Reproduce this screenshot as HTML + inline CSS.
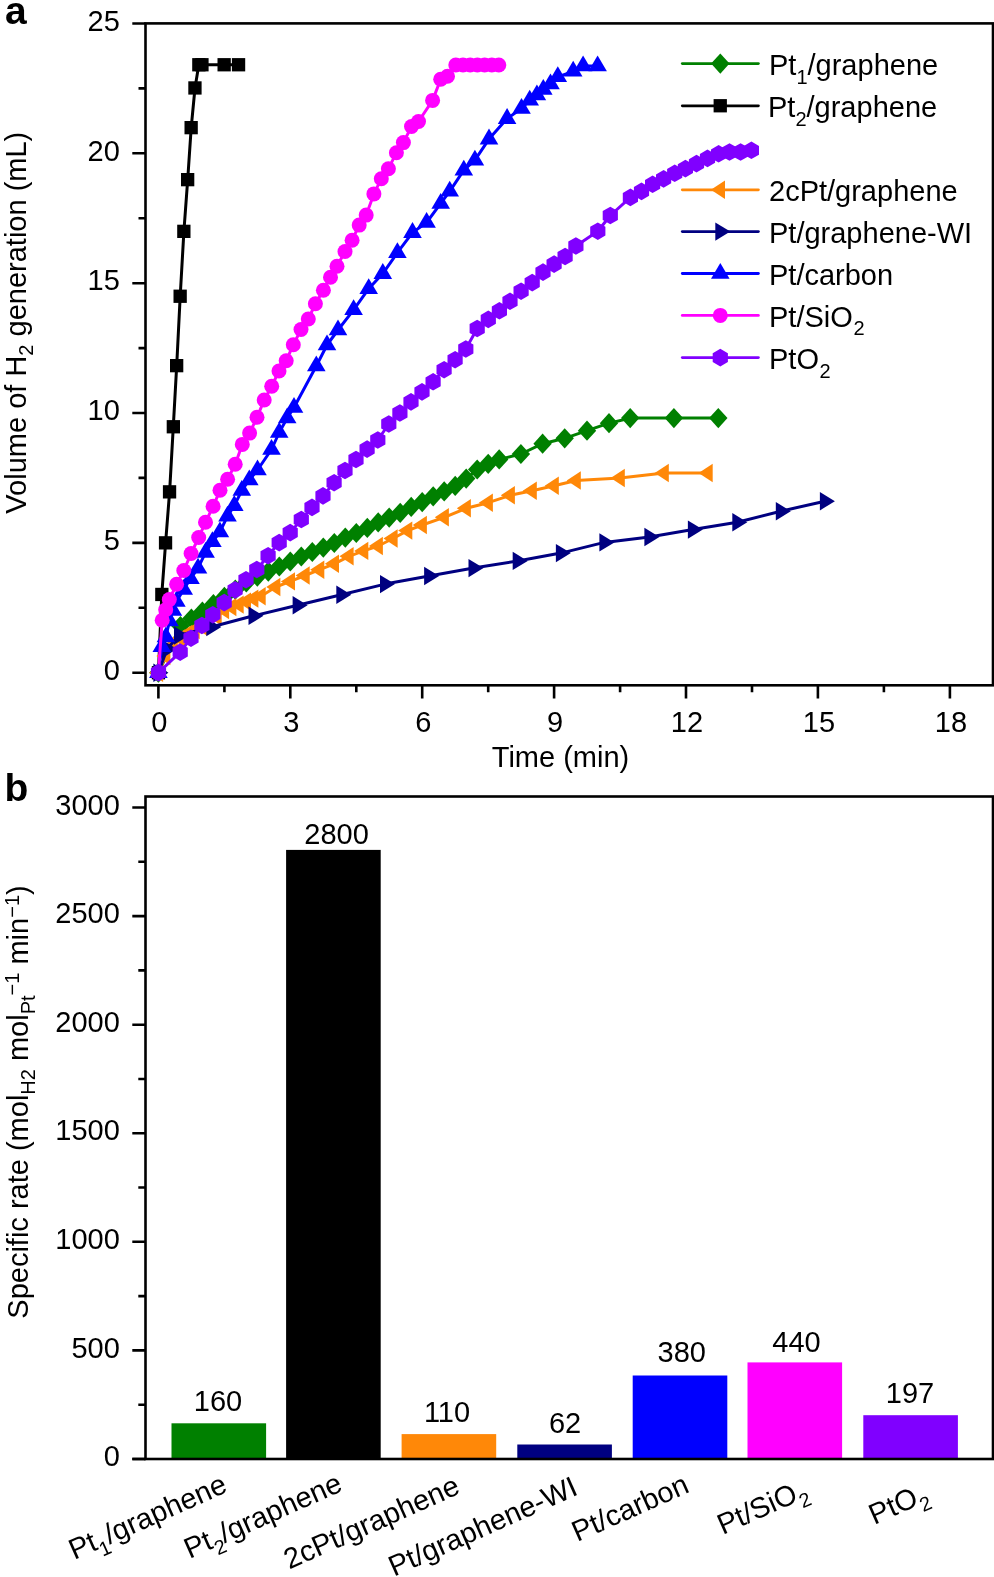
<!DOCTYPE html>
<html><head><meta charset="utf-8"><style>
html,body{margin:0;padding:0;background:#fff;overflow:hidden;width:994px;height:1577px;}
svg{display:block;will-change:transform;}
text{font-family:"Liberation Sans", sans-serif;fill:#000;}
</style></head><body>
<svg width="994" height="1577" viewBox="0 0 994 1577">
<rect width="994" height="1577" fill="#fff"/>
<g id="a">
<text x="5" y="23.5" font-size="39" font-weight="bold">a</text>
<path d="M132.3 672.7H145.5M138.5 607.8H145.5M132.3 542.9H145.5M138.5 477.9H145.5M132.3 413H145.5M138.5 348.1H145.5M132.3 283.2H145.5M138.5 218.2H145.5M132.3 153.3H145.5M138.5 88.4H145.5M132.3 23.5H145.5M158.4 685.3V698.4M224.4 685.3V692.3M290.3 685.3V698.4M356.3 685.3V692.3M422.2 685.3V698.4M488.2 685.3V692.3M554.1 685.3V698.4M620.1 685.3V692.3M686 685.3V698.4M752 685.3V692.3M817.9 685.3V698.4M883.9 685.3V692.3M949.9 685.3V698.4" stroke="#000" stroke-width="2.6" fill="none"/>
<text x="119.8" y="679.9" font-size="29" text-anchor="end">0</text>
<text x="119.8" y="550.1" font-size="29" text-anchor="end">5</text>
<text x="119.8" y="420.2" font-size="29" text-anchor="end">10</text>
<text x="119.8" y="290.4" font-size="29" text-anchor="end">15</text>
<text x="119.8" y="160.5" font-size="29" text-anchor="end">20</text>
<text x="119.8" y="30.7" font-size="29" text-anchor="end">25</text>
<text x="159.4" y="732.3" font-size="29" text-anchor="middle">0</text>
<text x="291.3" y="732.3" font-size="29" text-anchor="middle">3</text>
<text x="423.2" y="732.3" font-size="29" text-anchor="middle">6</text>
<text x="555.1" y="732.3" font-size="29" text-anchor="middle">9</text>
<text x="687" y="732.3" font-size="29" text-anchor="middle">12</text>
<text x="818.9" y="732.3" font-size="29" text-anchor="middle">15</text>
<text x="950.9" y="732.3" font-size="29" text-anchor="middle">18</text>
<text x="560.5" y="767.3" font-size="29" text-anchor="middle">Time (min)</text>
<text transform="translate(25.8,322.7) rotate(-90)" font-size="29" text-anchor="middle">Volume of H<tspan font-size="20" dy="7">2</tspan><tspan dy="-7"> generation (mL)</tspan></text>
<clipPath id="ca"><rect x="145.5" y="23.4" width="847.5" height="661.9"/></clipPath>
<g>
<polyline points="158.4,672.7 180.4,626 191.4,618.5 202.4,611.5 213.4,604.2 224.4,596.9 235.3,589.7 246.3,582.4 257.3,576.6 268.3,571.6 279.3,566.5 290.3,561.5 301.3,556.5 312.3,552 323.3,547.6 334.3,543 345.3,537.6 356.3,533 367.3,527.9 378.2,522.4 389.2,517.6 400.2,512.8 411.2,506.9 422.2,502.1 433.2,496.3 444.2,491.4 455.2,485.9 466.2,478.6 477.2,469.5 488.2,463.8 499.2,459.4 520.9,454 542.6,443.7 564.7,438.3 587,430.7 609,423.2 630.2,418.1 673.9,418.1 718.3,418.1" fill="none" stroke="#008000" stroke-width="3.0" stroke-linejoin="round"/><polygon points="158.4,662.6 167.6,672.7 158.4,682.8 149.2,672.7" fill="#008000"/><polygon points="180.4,615.9 189.6,626 180.4,636.1 171.2,626" fill="#008000"/><polygon points="191.4,608.4 200.6,618.5 191.4,628.6 182.2,618.5" fill="#008000"/><polygon points="202.4,601.4 211.6,611.5 202.4,621.6 193.2,611.5" fill="#008000"/><polygon points="213.4,594.1 222.6,604.2 213.4,614.3 204.2,604.2" fill="#008000"/><polygon points="224.4,586.8 233.6,596.9 224.4,607 215.2,596.9" fill="#008000"/><polygon points="235.3,579.6 244.5,589.7 235.3,599.8 226.1,589.7" fill="#008000"/><polygon points="246.3,572.3 255.5,582.4 246.3,592.5 237.1,582.4" fill="#008000"/><polygon points="257.3,566.5 266.5,576.6 257.3,586.7 248.1,576.6" fill="#008000"/><polygon points="268.3,561.5 277.5,571.6 268.3,581.7 259.1,571.6" fill="#008000"/><polygon points="279.3,556.4 288.5,566.5 279.3,576.6 270.1,566.5" fill="#008000"/><polygon points="290.3,551.4 299.5,561.5 290.3,571.6 281.1,561.5" fill="#008000"/><polygon points="301.3,546.4 310.5,556.5 301.3,566.6 292.1,556.5" fill="#008000"/><polygon points="312.3,541.9 321.5,552 312.3,562.1 303.1,552" fill="#008000"/><polygon points="323.3,537.5 332.5,547.6 323.3,557.7 314.1,547.6" fill="#008000"/><polygon points="334.3,532.9 343.5,543 334.3,553.1 325.1,543" fill="#008000"/><polygon points="345.3,527.5 354.5,537.6 345.3,547.7 336.1,537.6" fill="#008000"/><polygon points="356.3,522.9 365.5,533 356.3,543.1 347.1,533" fill="#008000"/><polygon points="367.3,517.8 376.5,527.9 367.3,538 358.1,527.9" fill="#008000"/><polygon points="378.2,512.3 387.4,522.4 378.2,532.5 369.1,522.4" fill="#008000"/><polygon points="389.2,507.5 398.4,517.6 389.2,527.7 380,517.6" fill="#008000"/><polygon points="400.2,502.7 409.4,512.8 400.2,522.9 391,512.8" fill="#008000"/><polygon points="411.2,496.8 420.4,506.9 411.2,517 402,506.9" fill="#008000"/><polygon points="422.2,492 431.4,502.1 422.2,512.2 413,502.1" fill="#008000"/><polygon points="433.2,486.2 442.4,496.3 433.2,506.4 424,496.3" fill="#008000"/><polygon points="444.2,481.3 453.4,491.4 444.2,501.5 435,491.4" fill="#008000"/><polygon points="455.2,475.8 464.4,485.9 455.2,496 446,485.9" fill="#008000"/><polygon points="466.2,468.5 475.4,478.6 466.2,488.7 457,478.6" fill="#008000"/><polygon points="477.2,459.4 486.4,469.5 477.2,479.6 468,469.5" fill="#008000"/><polygon points="488.2,453.7 497.4,463.8 488.2,473.9 479,463.8" fill="#008000"/><polygon points="499.2,449.3 508.4,459.4 499.2,469.5 490,459.4" fill="#008000"/><polygon points="520.9,443.9 530.1,454 520.9,464.1 511.7,454" fill="#008000"/><polygon points="542.6,433.6 551.8,443.7 542.6,453.8 533.4,443.7" fill="#008000"/><polygon points="564.7,428.2 573.9,438.3 564.7,448.4 555.5,438.3" fill="#008000"/><polygon points="587,420.6 596.2,430.7 587,440.8 577.8,430.7" fill="#008000"/><polygon points="609,413.1 618.2,423.2 609,433.3 599.8,423.2" fill="#008000"/><polygon points="630.2,408 639.4,418.1 630.2,428.2 621,418.1" fill="#008000"/><polygon points="673.9,408 683.1,418.1 673.9,428.2 664.7,418.1" fill="#008000"/><polygon points="718.3,408 727.5,418.1 718.3,428.2 709.1,418.1" fill="#008000"/>
<polyline points="158.4,672.7 161.8,594.4 165.6,542.9 169.6,491.8 173.3,426.7 176.7,365.6 180.2,296.2 183.9,231.3 187.7,179.7 191.2,127.7 195,88 198.8,64.8 202,64.8 224.2,64.8 238.6,64.8" fill="none" stroke="#000000" stroke-width="3.0" stroke-linejoin="round"/><rect x="151.8" y="666.1" width="13.3" height="13.3" fill="#000000"/><rect x="155.2" y="587.8" width="13.3" height="13.3" fill="#000000"/><rect x="158.9" y="536.2" width="13.3" height="13.3" fill="#000000"/><rect x="162.9" y="485.2" width="13.3" height="13.3" fill="#000000"/><rect x="166.7" y="420.1" width="13.3" height="13.3" fill="#000000"/><rect x="170" y="359" width="13.3" height="13.3" fill="#000000"/><rect x="173.5" y="289.6" width="13.3" height="13.3" fill="#000000"/><rect x="177.2" y="224.7" width="13.3" height="13.3" fill="#000000"/><rect x="181" y="173" width="13.3" height="13.3" fill="#000000"/><rect x="184.5" y="121" width="13.3" height="13.3" fill="#000000"/><rect x="188.3" y="81.3" width="13.3" height="13.3" fill="#000000"/><rect x="192.2" y="58.1" width="13.3" height="13.3" fill="#000000"/><rect x="195.3" y="58.1" width="13.3" height="13.3" fill="#000000"/><rect x="217.5" y="58.1" width="13.3" height="13.3" fill="#000000"/><rect x="231.9" y="58.1" width="13.3" height="13.3" fill="#000000"/>
<polyline points="158.4,672.7 165.7,656 173.1,645 180.4,638.5 187.7,634 195,630 202.4,626.5 209.7,621.5 217,616.5 224.4,610.1 231.7,607.1 239,604.6 246.3,601.6 253.7,598.6 261,596.2 275.7,587 290.3,581.4 305,575.5 319.6,569.7 334.3,563.8 348.9,556.3 363.6,550.9 378.2,546 392.9,538.5 407.6,530.6 422.2,525 444.2,517.3 466.2,508.3 488.2,502.7 510.2,495.3 532.1,490.7 554.1,485.8 576.1,480.5 620.1,478 664.1,473 708,473" fill="none" stroke="#ff8808" stroke-width="3.0" stroke-linejoin="round"/><polygon points="149,672.7 163.1,663.5 163.1,681.9" fill="#ff8808"/><polygon points="156.3,656 170.4,646.8 170.4,665.2" fill="#ff8808"/><polygon points="163.7,645 177.8,635.8 177.8,654.2" fill="#ff8808"/><polygon points="171,638.5 185.1,629.3 185.1,647.7" fill="#ff8808"/><polygon points="178.3,634 192.4,624.8 192.4,643.2" fill="#ff8808"/><polygon points="185.6,630 199.7,620.8 199.7,639.2" fill="#ff8808"/><polygon points="193,626.5 207.1,617.3 207.1,635.7" fill="#ff8808"/><polygon points="200.3,621.5 214.4,612.3 214.4,630.7" fill="#ff8808"/><polygon points="207.6,616.5 221.7,607.3 221.7,625.7" fill="#ff8808"/><polygon points="215,610.1 229.1,600.9 229.1,619.3" fill="#ff8808"/><polygon points="222.3,607.1 236.4,597.9 236.4,616.3" fill="#ff8808"/><polygon points="229.6,604.6 243.7,595.4 243.7,613.8" fill="#ff8808"/><polygon points="236.9,601.6 251,592.4 251,610.8" fill="#ff8808"/><polygon points="244.3,598.6 258.4,589.4 258.4,607.8" fill="#ff8808"/><polygon points="251.6,596.2 265.7,587 265.7,605.4" fill="#ff8808"/><polygon points="266.3,587 280.4,577.8 280.4,596.2" fill="#ff8808"/><polygon points="280.9,581.4 295,572.2 295,590.6" fill="#ff8808"/><polygon points="295.6,575.5 309.7,566.3 309.7,584.7" fill="#ff8808"/><polygon points="310.2,569.7 324.3,560.5 324.3,578.9" fill="#ff8808"/><polygon points="324.9,563.8 339,554.6 339,573" fill="#ff8808"/><polygon points="339.5,556.3 353.6,547.1 353.6,565.5" fill="#ff8808"/><polygon points="354.2,550.9 368.3,541.7 368.3,560.1" fill="#ff8808"/><polygon points="368.9,546 382.9,536.8 382.9,555.2" fill="#ff8808"/><polygon points="383.5,538.5 397.6,529.3 397.6,547.7" fill="#ff8808"/><polygon points="398.2,530.6 412.3,521.4 412.3,539.8" fill="#ff8808"/><polygon points="412.8,525 426.9,515.8 426.9,534.2" fill="#ff8808"/><polygon points="434.8,517.3 448.9,508.1 448.9,526.5" fill="#ff8808"/><polygon points="456.8,508.3 470.9,499.1 470.9,517.5" fill="#ff8808"/><polygon points="478.8,502.7 492.9,493.5 492.9,511.9" fill="#ff8808"/><polygon points="500.8,495.3 514.9,486.1 514.9,504.5" fill="#ff8808"/><polygon points="522.7,490.7 536.8,481.5 536.8,499.9" fill="#ff8808"/><polygon points="544.7,485.8 558.8,476.6 558.8,495" fill="#ff8808"/><polygon points="566.7,480.5 580.8,471.3 580.8,489.7" fill="#ff8808"/><polygon points="610.7,478 624.8,468.8 624.8,487.2" fill="#ff8808"/><polygon points="654.7,473 668.8,463.8 668.8,482.2" fill="#ff8808"/><polygon points="698.6,473 712.7,463.8 712.7,482.2" fill="#ff8808"/>
<polyline points="158.4,672.7 167,649 179,635.5 211.3,627 253.5,615.8 297.6,605.3 341.3,594.7 385,584.1 429.1,576 473.5,568.1 517.7,560.9 560.9,553.1 604.4,542.4 649.4,537 692.9,529.6 737.3,522.2 780.8,511.2 824.9,501.2" fill="none" stroke="#000080" stroke-width="3.0" stroke-linejoin="round"/><polygon points="168.4,672.7 153.4,663.5 153.4,681.9" fill="#000080"/><polygon points="177,649 162,639.8 162,658.2" fill="#000080"/><polygon points="189,635.5 174,626.3 174,644.7" fill="#000080"/><polygon points="221.3,627 206.3,617.8 206.3,636.2" fill="#000080"/><polygon points="263.5,615.8 248.5,606.6 248.5,625" fill="#000080"/><polygon points="307.6,605.3 292.6,596.1 292.6,614.5" fill="#000080"/><polygon points="351.3,594.7 336.3,585.5 336.3,603.9" fill="#000080"/><polygon points="395,584.1 380,574.9 380,593.3" fill="#000080"/><polygon points="439.1,576 424.1,566.8 424.1,585.2" fill="#000080"/><polygon points="483.5,568.1 468.5,558.9 468.5,577.3" fill="#000080"/><polygon points="527.7,560.9 512.7,551.7 512.7,570.1" fill="#000080"/><polygon points="570.9,553.1 555.9,543.9 555.9,562.3" fill="#000080"/><polygon points="614.4,542.4 599.4,533.2 599.4,551.6" fill="#000080"/><polygon points="659.4,537 644.4,527.8 644.4,546.2" fill="#000080"/><polygon points="702.9,529.6 687.9,520.4 687.9,538.8" fill="#000080"/><polygon points="747.3,522.2 732.3,513 732.3,531.4" fill="#000080"/><polygon points="790.8,511.2 775.8,502 775.8,520.4" fill="#000080"/><polygon points="834.9,501.2 819.9,492 819.9,510.4" fill="#000080"/>
<polyline points="158.4,672.7 161.8,646.8 165.9,637 169.5,621 172.9,610.5 176.4,601.5 183.7,589.4 190.5,578.8 198,568.2 205.6,552.4 212.4,541.8 219.9,532 227.5,516.2 234.3,505.6 241.8,490.5 249.3,480 257.5,470 271.5,449.5 279.2,432.5 287.2,418 294,407.5 316.3,366 327,345 338,330 353.6,309.8 368.7,288.7 382.8,273.6 397.4,252.7 412.5,232.6 426.6,222.5 440.7,203.4 449.7,191.3 463.8,170.2 474.9,160.2 489,139.1 507.1,118.6 521.5,108.5 529.7,100.3 536.9,94.9 543.3,89.5 550.5,84 557.8,76.8 573.2,71.3 583.1,65.9 597.6,65.9" fill="none" stroke="#0000ff" stroke-width="3.0" stroke-linejoin="round"/><polygon points="158.4,662.2 167.7,678 149.1,678" fill="#0000ff"/><polygon points="161.8,636.3 171.1,652.1 152.5,652.1" fill="#0000ff"/><polygon points="165.9,626.5 175.2,642.3 156.6,642.3" fill="#0000ff"/><polygon points="169.5,610.5 178.8,626.3 160.2,626.3" fill="#0000ff"/><polygon points="172.9,600 182.2,615.8 163.6,615.8" fill="#0000ff"/><polygon points="176.4,591 185.7,606.8 167.1,606.8" fill="#0000ff"/><polygon points="183.7,578.9 193,594.7 174.4,594.7" fill="#0000ff"/><polygon points="190.5,568.3 199.8,584.1 181.2,584.1" fill="#0000ff"/><polygon points="198,557.7 207.3,573.5 188.7,573.5" fill="#0000ff"/><polygon points="205.6,541.9 214.9,557.7 196.3,557.7" fill="#0000ff"/><polygon points="212.4,531.3 221.7,547.1 203.1,547.1" fill="#0000ff"/><polygon points="219.9,521.5 229.2,537.3 210.6,537.3" fill="#0000ff"/><polygon points="227.5,505.7 236.8,521.5 218.2,521.5" fill="#0000ff"/><polygon points="234.3,495.1 243.6,510.9 225,510.9" fill="#0000ff"/><polygon points="241.8,480 251.1,495.8 232.5,495.8" fill="#0000ff"/><polygon points="249.3,469.5 258.6,485.3 240,485.3" fill="#0000ff"/><polygon points="257.5,459.5 266.8,475.3 248.2,475.3" fill="#0000ff"/><polygon points="271.5,439 280.8,454.8 262.2,454.8" fill="#0000ff"/><polygon points="279.2,422 288.5,437.8 269.9,437.8" fill="#0000ff"/><polygon points="287.2,407.5 296.5,423.3 277.9,423.3" fill="#0000ff"/><polygon points="294,397 303.3,412.8 284.7,412.8" fill="#0000ff"/><polygon points="316.3,355.5 325.6,371.3 307,371.3" fill="#0000ff"/><polygon points="327,334.5 336.3,350.3 317.7,350.3" fill="#0000ff"/><polygon points="338,319.5 347.3,335.3 328.7,335.3" fill="#0000ff"/><polygon points="353.6,299.3 362.9,315.1 344.3,315.1" fill="#0000ff"/><polygon points="368.7,278.2 378,294 359.4,294" fill="#0000ff"/><polygon points="382.8,263.1 392.1,278.9 373.5,278.9" fill="#0000ff"/><polygon points="397.4,242.2 406.7,258 388.1,258" fill="#0000ff"/><polygon points="412.5,222.1 421.8,237.9 403.2,237.9" fill="#0000ff"/><polygon points="426.6,212 435.9,227.8 417.3,227.8" fill="#0000ff"/><polygon points="440.7,192.9 450,208.7 431.4,208.7" fill="#0000ff"/><polygon points="449.7,180.8 459,196.6 440.4,196.6" fill="#0000ff"/><polygon points="463.8,159.7 473.1,175.5 454.5,175.5" fill="#0000ff"/><polygon points="474.9,149.7 484.2,165.5 465.6,165.5" fill="#0000ff"/><polygon points="489,128.6 498.3,144.4 479.7,144.4" fill="#0000ff"/><polygon points="507.1,108.1 516.4,123.9 497.8,123.9" fill="#0000ff"/><polygon points="521.5,98 530.8,113.8 512.2,113.8" fill="#0000ff"/><polygon points="529.7,89.8 539,105.6 520.4,105.6" fill="#0000ff"/><polygon points="536.9,84.4 546.2,100.2 527.6,100.2" fill="#0000ff"/><polygon points="543.3,79 552.6,94.8 534,94.8" fill="#0000ff"/><polygon points="550.5,73.5 559.8,89.3 541.2,89.3" fill="#0000ff"/><polygon points="557.8,66.3 567.1,82.1 548.5,82.1" fill="#0000ff"/><polygon points="573.2,60.8 582.5,76.6 563.9,76.6" fill="#0000ff"/><polygon points="583.1,55.4 592.4,71.2 573.8,71.2" fill="#0000ff"/><polygon points="597.6,55.4 606.9,71.2 588.3,71.2" fill="#0000ff"/>
<polyline points="158.4,672.7 162.2,620.3 165.7,609.8 169.3,599.6 176.6,584.2 183.8,570.5 191.1,553.5 198.7,537.5 205.5,522.3 213.1,506.3 220,490.3 227.6,479.3 235.2,464.3 242.3,444.4 249.6,433.1 257,417.3 264.2,400 271.7,386.2 279,371 286.2,360.7 293.3,344.8 301,329.5 308.3,319 315.4,303.8 323.4,290.2 330.5,277.2 337,266.3 345,251.5 352.1,240.2 359.2,225.1 366.2,215.1 373.9,193.9 381.3,178.8 388.4,168.8 396.4,152.7 403.4,142.6 411.5,126.5 418.5,121.5 432.6,100.4 440.7,79.2 447.5,76.2 455.8,65 463,65 470.2,65 477.4,65 484.6,65 491.8,65 498.8,65" fill="none" stroke="#ff00ff" stroke-width="3.0" stroke-linejoin="round"/><circle cx="158.4" cy="672.7" r="7.5" fill="#ff00ff"/><circle cx="162.2" cy="620.3" r="7.5" fill="#ff00ff"/><circle cx="165.7" cy="609.8" r="7.5" fill="#ff00ff"/><circle cx="169.3" cy="599.6" r="7.5" fill="#ff00ff"/><circle cx="176.6" cy="584.2" r="7.5" fill="#ff00ff"/><circle cx="183.8" cy="570.5" r="7.5" fill="#ff00ff"/><circle cx="191.1" cy="553.5" r="7.5" fill="#ff00ff"/><circle cx="198.7" cy="537.5" r="7.5" fill="#ff00ff"/><circle cx="205.5" cy="522.3" r="7.5" fill="#ff00ff"/><circle cx="213.1" cy="506.3" r="7.5" fill="#ff00ff"/><circle cx="220" cy="490.3" r="7.5" fill="#ff00ff"/><circle cx="227.6" cy="479.3" r="7.5" fill="#ff00ff"/><circle cx="235.2" cy="464.3" r="7.5" fill="#ff00ff"/><circle cx="242.3" cy="444.4" r="7.5" fill="#ff00ff"/><circle cx="249.6" cy="433.1" r="7.5" fill="#ff00ff"/><circle cx="257" cy="417.3" r="7.5" fill="#ff00ff"/><circle cx="264.2" cy="400" r="7.5" fill="#ff00ff"/><circle cx="271.7" cy="386.2" r="7.5" fill="#ff00ff"/><circle cx="279" cy="371" r="7.5" fill="#ff00ff"/><circle cx="286.2" cy="360.7" r="7.5" fill="#ff00ff"/><circle cx="293.3" cy="344.8" r="7.5" fill="#ff00ff"/><circle cx="301" cy="329.5" r="7.5" fill="#ff00ff"/><circle cx="308.3" cy="319" r="7.5" fill="#ff00ff"/><circle cx="315.4" cy="303.8" r="7.5" fill="#ff00ff"/><circle cx="323.4" cy="290.2" r="7.5" fill="#ff00ff"/><circle cx="330.5" cy="277.2" r="7.5" fill="#ff00ff"/><circle cx="337" cy="266.3" r="7.5" fill="#ff00ff"/><circle cx="345" cy="251.5" r="7.5" fill="#ff00ff"/><circle cx="352.1" cy="240.2" r="7.5" fill="#ff00ff"/><circle cx="359.2" cy="225.1" r="7.5" fill="#ff00ff"/><circle cx="366.2" cy="215.1" r="7.5" fill="#ff00ff"/><circle cx="373.9" cy="193.9" r="7.5" fill="#ff00ff"/><circle cx="381.3" cy="178.8" r="7.5" fill="#ff00ff"/><circle cx="388.4" cy="168.8" r="7.5" fill="#ff00ff"/><circle cx="396.4" cy="152.7" r="7.5" fill="#ff00ff"/><circle cx="403.4" cy="142.6" r="7.5" fill="#ff00ff"/><circle cx="411.5" cy="126.5" r="7.5" fill="#ff00ff"/><circle cx="418.5" cy="121.5" r="7.5" fill="#ff00ff"/><circle cx="432.6" cy="100.4" r="7.5" fill="#ff00ff"/><circle cx="440.7" cy="79.2" r="7.5" fill="#ff00ff"/><circle cx="447.5" cy="76.2" r="7.5" fill="#ff00ff"/><circle cx="455.8" cy="65" r="7.5" fill="#ff00ff"/><circle cx="463" cy="65" r="7.5" fill="#ff00ff"/><circle cx="470.2" cy="65" r="7.5" fill="#ff00ff"/><circle cx="477.4" cy="65" r="7.5" fill="#ff00ff"/><circle cx="484.6" cy="65" r="7.5" fill="#ff00ff"/><circle cx="491.8" cy="65" r="7.5" fill="#ff00ff"/><circle cx="498.8" cy="65" r="7.5" fill="#ff00ff"/>
<polyline points="158.5,672.6 180.2,652.1 191,638.2 201.9,625.5 212.8,614.7 224.2,602.6 235.1,589.9 246,579.7 256.8,569.5 268.1,555.7 279.2,542.6 290.2,532.6 301.3,519.5 312,507.4 323,495.9 334.1,482.7 345,470.5 356,459.5 367.1,449.1 377.8,440 388.8,424 399.9,413 411,401.9 422,391.9 433.1,381.8 444.1,369.7 455.1,359.7 465.8,349 477.2,328.5 488.3,319.4 499.4,310.8 510,301.3 521.1,291.2 532.2,282.6 543,272.1 554.1,264.1 565.1,256.5 575.9,246 597.8,231.2 610.3,215.5 630.4,197.4 641.5,191.4 652.6,184.3 663.6,178.9 674.7,173.3 685.4,168.6 696.5,163.6 707.5,158.4 718.6,153.8 729.5,152 740.6,152 751.4,150.3" fill="none" stroke="#8000ff" stroke-width="3.0" stroke-linejoin="round"/><polygon points="158.5,663.8 166.1,668.2 166.1,677 158.5,681.4 150.9,677 150.9,668.2" fill="#8000ff"/><polygon points="180.2,643.3 187.8,647.7 187.8,656.5 180.2,660.9 172.6,656.5 172.6,647.7" fill="#8000ff"/><polygon points="191,629.4 198.6,633.8 198.6,642.6 191,647 183.4,642.6 183.4,633.8" fill="#8000ff"/><polygon points="201.9,616.7 209.5,621.1 209.5,629.9 201.9,634.3 194.3,629.9 194.3,621.1" fill="#8000ff"/><polygon points="212.8,605.9 220.4,610.3 220.4,619.1 212.8,623.5 205.2,619.1 205.2,610.3" fill="#8000ff"/><polygon points="224.2,593.8 231.8,598.2 231.8,607 224.2,611.4 216.6,607 216.6,598.2" fill="#8000ff"/><polygon points="235.1,581.1 242.7,585.5 242.7,594.3 235.1,598.7 227.5,594.3 227.5,585.5" fill="#8000ff"/><polygon points="246,570.9 253.6,575.3 253.6,584.1 246,588.5 238.4,584.1 238.4,575.3" fill="#8000ff"/><polygon points="256.8,560.7 264.4,565.1 264.4,573.9 256.8,578.3 249.2,573.9 249.2,565.1" fill="#8000ff"/><polygon points="268.1,546.9 275.7,551.3 275.7,560.1 268.1,564.5 260.5,560.1 260.5,551.3" fill="#8000ff"/><polygon points="279.2,533.8 286.8,538.2 286.8,547 279.2,551.4 271.6,547 271.6,538.2" fill="#8000ff"/><polygon points="290.2,523.8 297.8,528.2 297.8,537 290.2,541.4 282.6,537 282.6,528.2" fill="#8000ff"/><polygon points="301.3,510.7 308.9,515.1 308.9,523.9 301.3,528.3 293.7,523.9 293.7,515.1" fill="#8000ff"/><polygon points="312,498.6 319.6,503 319.6,511.8 312,516.2 304.4,511.8 304.4,503" fill="#8000ff"/><polygon points="323,487.1 330.6,491.5 330.6,500.3 323,504.7 315.4,500.3 315.4,491.5" fill="#8000ff"/><polygon points="334.1,473.9 341.7,478.3 341.7,487.1 334.1,491.5 326.5,487.1 326.5,478.3" fill="#8000ff"/><polygon points="345,461.7 352.6,466.1 352.6,474.9 345,479.3 337.4,474.9 337.4,466.1" fill="#8000ff"/><polygon points="356,450.7 363.6,455.1 363.6,463.9 356,468.3 348.4,463.9 348.4,455.1" fill="#8000ff"/><polygon points="367.1,440.3 374.7,444.7 374.7,453.5 367.1,457.9 359.5,453.5 359.5,444.7" fill="#8000ff"/><polygon points="377.8,431.2 385.4,435.6 385.4,444.4 377.8,448.8 370.2,444.4 370.2,435.6" fill="#8000ff"/><polygon points="388.8,415.2 396.4,419.6 396.4,428.4 388.8,432.8 381.2,428.4 381.2,419.6" fill="#8000ff"/><polygon points="399.9,404.2 407.5,408.6 407.5,417.4 399.9,421.8 392.3,417.4 392.3,408.6" fill="#8000ff"/><polygon points="411,393.1 418.6,397.5 418.6,406.3 411,410.7 403.4,406.3 403.4,397.5" fill="#8000ff"/><polygon points="422,383.1 429.6,387.5 429.6,396.3 422,400.7 414.4,396.3 414.4,387.5" fill="#8000ff"/><polygon points="433.1,373 440.7,377.4 440.7,386.2 433.1,390.6 425.5,386.2 425.5,377.4" fill="#8000ff"/><polygon points="444.1,360.9 451.7,365.3 451.7,374.1 444.1,378.5 436.5,374.1 436.5,365.3" fill="#8000ff"/><polygon points="455.1,350.9 462.7,355.3 462.7,364.1 455.1,368.5 447.5,364.1 447.5,355.3" fill="#8000ff"/><polygon points="465.8,340.2 473.4,344.6 473.4,353.4 465.8,357.8 458.2,353.4 458.2,344.6" fill="#8000ff"/><polygon points="477.2,319.7 484.8,324.1 484.8,332.9 477.2,337.3 469.6,332.9 469.6,324.1" fill="#8000ff"/><polygon points="488.3,310.6 495.9,315 495.9,323.8 488.3,328.2 480.7,323.8 480.7,315" fill="#8000ff"/><polygon points="499.4,302 507,306.4 507,315.2 499.4,319.6 491.8,315.2 491.8,306.4" fill="#8000ff"/><polygon points="510,292.5 517.6,296.9 517.6,305.7 510,310.1 502.4,305.7 502.4,296.9" fill="#8000ff"/><polygon points="521.1,282.4 528.7,286.8 528.7,295.6 521.1,300 513.5,295.6 513.5,286.8" fill="#8000ff"/><polygon points="532.2,273.8 539.8,278.2 539.8,287 532.2,291.4 524.6,287 524.6,278.2" fill="#8000ff"/><polygon points="543,263.3 550.6,267.7 550.6,276.5 543,280.9 535.4,276.5 535.4,267.7" fill="#8000ff"/><polygon points="554.1,255.3 561.7,259.7 561.7,268.5 554.1,272.9 546.5,268.5 546.5,259.7" fill="#8000ff"/><polygon points="565.1,247.7 572.7,252.1 572.7,260.9 565.1,265.3 557.5,260.9 557.5,252.1" fill="#8000ff"/><polygon points="575.9,237.2 583.5,241.6 583.5,250.4 575.9,254.8 568.3,250.4 568.3,241.6" fill="#8000ff"/><polygon points="597.8,222.4 605.4,226.8 605.4,235.6 597.8,240 590.2,235.6 590.2,226.8" fill="#8000ff"/><polygon points="610.3,206.7 617.9,211.1 617.9,219.9 610.3,224.3 602.7,219.9 602.7,211.1" fill="#8000ff"/><polygon points="630.4,188.6 638,193 638,201.8 630.4,206.2 622.8,201.8 622.8,193" fill="#8000ff"/><polygon points="641.5,182.6 649.1,187 649.1,195.8 641.5,200.2 633.9,195.8 633.9,187" fill="#8000ff"/><polygon points="652.6,175.5 660.2,179.9 660.2,188.7 652.6,193.1 645,188.7 645,179.9" fill="#8000ff"/><polygon points="663.6,170.1 671.2,174.5 671.2,183.3 663.6,187.7 656,183.3 656,174.5" fill="#8000ff"/><polygon points="674.7,164.5 682.3,168.9 682.3,177.7 674.7,182.1 667.1,177.7 667.1,168.9" fill="#8000ff"/><polygon points="685.4,159.8 693,164.2 693,173 685.4,177.4 677.8,173 677.8,164.2" fill="#8000ff"/><polygon points="696.5,154.8 704.1,159.2 704.1,168 696.5,172.4 688.9,168 688.9,159.2" fill="#8000ff"/><polygon points="707.5,149.6 715.1,154 715.1,162.8 707.5,167.2 699.9,162.8 699.9,154" fill="#8000ff"/><polygon points="718.6,145 726.2,149.4 726.2,158.2 718.6,162.6 711,158.2 711,149.4" fill="#8000ff"/><polygon points="729.5,143.2 737.1,147.6 737.1,156.4 729.5,160.8 721.9,156.4 721.9,147.6" fill="#8000ff"/><polygon points="740.6,143.2 748.2,147.6 748.2,156.4 740.6,160.8 733,156.4 733,147.6" fill="#8000ff"/><polygon points="751.4,141.5 759,145.9 759,154.7 751.4,159.1 743.8,154.7 743.8,145.9" fill="#8000ff"/>
</g>
<rect x="145.5" y="23.4" width="847.5" height="661.9" fill="none" stroke="#000" stroke-width="2.6"/>
<path d="M682.3 63.6H758.4" stroke="#008000" stroke-width="2.8" stroke-linecap="round"/>
<polygon points="720.3,53.5 729.5,63.6 720.3,73.7 711.1,63.6" fill="#008000"/>
<text x="769" y="74.9" font-size="29">Pt<tspan font-size="20" dy="8.6">1</tspan><tspan dy="-8.6">/graphene</tspan></text>
<path d="M682.3 105.8H758.4" stroke="#000000" stroke-width="2.8" stroke-linecap="round"/>
<rect x="713.6" y="99.1" width="13.3" height="13.3" fill="#000000"/>
<text x="768" y="117.1" font-size="29">Pt<tspan font-size="20" dy="8.6">2</tspan><tspan dy="-8.6">/graphene</tspan></text>
<path d="M682.3 189.8H758.4" stroke="#ff8808" stroke-width="2.8" stroke-linecap="round"/>
<polygon points="710.9,189.8 725,180.6 725,199" fill="#ff8808"/>
<text x="769" y="201.1" font-size="29">2cPt/graphene</text>
<path d="M682.3 231.6H758.4" stroke="#000080" stroke-width="2.8" stroke-linecap="round"/>
<polygon points="730.3,231.6 715.3,222.4 715.3,240.8" fill="#000080"/>
<text x="769" y="242.9" font-size="29">Pt/graphene-WI</text>
<path d="M682.3 273.5H758.4" stroke="#0000ff" stroke-width="2.8" stroke-linecap="round"/>
<polygon points="720.3,263 729.6,278.8 711,278.8" fill="#0000ff"/>
<text x="769" y="284.8" font-size="29">Pt/carbon</text>
<path d="M682.3 315.4H758.4" stroke="#ff00ff" stroke-width="2.8" stroke-linecap="round"/>
<circle cx="720.3" cy="315.4" r="7.5" fill="#ff00ff"/>
<text x="769" y="326.7" font-size="29">Pt/SiO<tspan font-size="20" dy="8.6" dx="0.6">2</tspan></text>
<path d="M682.3 357.6H758.4" stroke="#8000ff" stroke-width="2.8" stroke-linecap="round"/>
<polygon points="720.3,348.8 727.9,353.2 727.9,362 720.3,366.4 712.7,362 712.7,353.2" fill="#8000ff"/>
<text x="769" y="368.9" font-size="29">PtO<tspan font-size="20" dy="8.6" dx="0.6">2</tspan></text>
</g>
<g id="b">
<text x="4.5" y="801" font-size="39" font-weight="bold">b</text>
<path d="M132.3 1459H145.5M138.3 1404.7H145.5M132.3 1350.4H145.5M138.3 1296.1H145.5M132.3 1241.8H145.5M138.3 1187.5H145.5M132.3 1133.2H145.5M138.3 1079H145.5M132.3 1024.7H145.5M138.3 970.4H145.5M132.3 916.1H145.5M138.3 861.8H145.5M132.3 807.5H145.5" stroke="#000" stroke-width="2.6" fill="none"/>
<text x="119.8" y="1466.2" font-size="29" text-anchor="end">0</text>
<text x="119.8" y="1357.6" font-size="29" text-anchor="end">500</text>
<text x="119.8" y="1249" font-size="29" text-anchor="end">1000</text>
<text x="119.8" y="1140.4" font-size="29" text-anchor="end">1500</text>
<text x="119.8" y="1031.9" font-size="29" text-anchor="end">2000</text>
<text x="119.8" y="923.3" font-size="29" text-anchor="end">2500</text>
<text x="119.8" y="814.7" font-size="29" text-anchor="end">3000</text>
<rect x="171.5" y="1423.3" width="94.6" height="35.7" fill="#008000"/>
<text x="218" y="1411.3" font-size="29" text-anchor="middle">160</text>
<rect x="286.1" y="849.9" width="94.6" height="609.1" fill="#000000"/>
<text x="336.6" y="843.8" font-size="29" text-anchor="middle">2800</text>
<rect x="401.6" y="1434.1" width="94.6" height="24.9" fill="#ff8808"/>
<text x="447" y="1422.4" font-size="29" text-anchor="middle">110</text>
<rect x="517.3" y="1444.5" width="94.6" height="14.5" fill="#000080"/>
<text x="565.1" y="1433.2" font-size="29" text-anchor="middle">62</text>
<rect x="632.7" y="1375.5" width="94.6" height="83.5" fill="#0000ff"/>
<text x="681.7" y="1362.1" font-size="29" text-anchor="middle">380</text>
<rect x="747.5" y="1362.4" width="94.6" height="96.6" fill="#ff00ff"/>
<text x="796.5" y="1351.6" font-size="29" text-anchor="middle">440</text>
<rect x="863.3" y="1415.2" width="94.6" height="43.8" fill="#8000ff"/>
<text x="910" y="1403.4" font-size="29" text-anchor="middle">197</text>
<rect x="145.5" y="796.5" width="847.5" height="662.5" fill="none" stroke="#000" stroke-width="2.6"/>
<path d="M132.3 1459.0H145.5" stroke="#000" stroke-width="2.6"/>
<text transform="translate(74.2,1560.1) rotate(-24)" font-size="29">Pt<tspan font-size="20" dy="8.6">1</tspan><tspan dy="-8.6">/graphene</tspan></text>
<text transform="translate(189.4,1558.9) rotate(-24)" font-size="29">Pt<tspan font-size="20" dy="8.6">2</tspan><tspan dy="-8.6">/graphene</tspan></text>
<text transform="translate(289.2,1569.5) rotate(-24)" font-size="29">2cPt/graphene</text>
<text transform="translate(393.9,1576.7) rotate(-24)" font-size="29">Pt/graphene-WI</text>
<text transform="translate(577.3,1542) rotate(-24)" font-size="29">Pt/carbon</text>
<text transform="translate(722.7,1534.9) rotate(-24)" font-size="29">Pt/SiO<tspan font-size="20" dy="8.3">2</tspan></text>
<text transform="translate(874.3,1524.9) rotate(-24)" font-size="29">PtO<tspan font-size="20" dy="8.3">2</tspan></text>
<text transform="translate(28.4,1102) rotate(-90)" font-size="29" text-anchor="middle">Specific rate (mol<tspan font-size="20" dy="7">H2</tspan><tspan dy="-7"> mol</tspan><tspan font-size="20" dy="7">Pt</tspan><tspan font-size="20" dy="-16">−1</tspan><tspan dy="9"> min</tspan><tspan font-size="20" dy="-9">−1</tspan><tspan dy="9">)</tspan></text>
</g>
</svg></body></html>
